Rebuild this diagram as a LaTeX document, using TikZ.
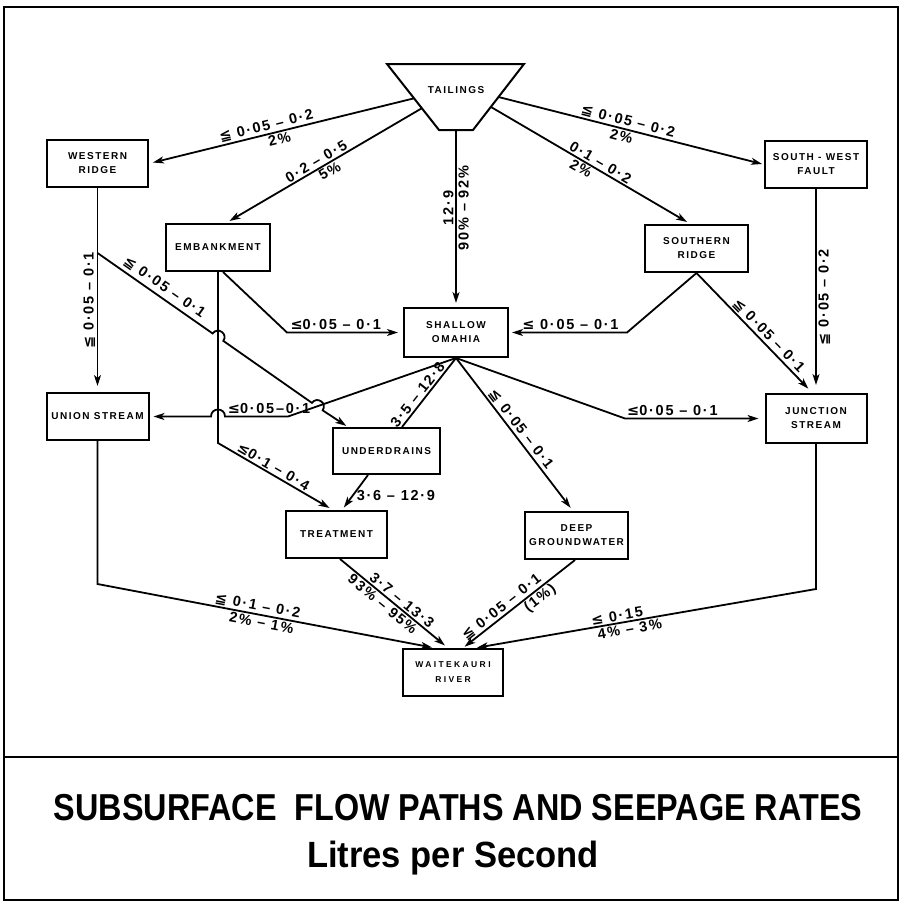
\documentclass[tikz,border=0pt]{standalone}
\usepackage{fontspec}
\usepackage{graphicx}
\setmainfont{Liberation Sans}
\newfontfamily\boxf[LetterSpace=15]{Liberation Sans}
\newfontfamily\wkf[LetterSpace=28]{Liberation Sans}
\newfontfamily\labf[LetterSpace=12]{Liberation Sans}
\newfontfamily\symf{DejaVu Sans}
\newfontfamily\titf{Liberation Sans}
\newcommand\myleqq{{\symf\bfseries ≦}}
\newcommand\myle{{\symf\bfseries ≤}}
\usetikzlibrary{arrows.meta,calc}
\tikzset{
  box/.style={draw, line width=2pt, minimum width=101pt, minimum height=47pt, inner sep=0pt, align=center, font=\boxf\bfseries\fontsize{10}{14}\selectfont},
  conn/.style={line width=1.8pt},
  arr/.style={conn, -{Stealth[length=11pt,width=7pt,inset=3pt]}, shorten >=4pt},
  lab/.style={font=\labf\bfseries\fontsize{14.5}{16}\selectfont, inner sep=1.5pt},
  frame/.style={line width=2pt},
  title/.style={font=\titf\bfseries, inner sep=0pt, anchor=base}
}
\begin{document}
\begin{tikzpicture}[x=1pt, y=-1pt]
\fill[white] (0,0) rectangle (901,902);
\useasboundingbox (0,0) rectangle (901,902);
% frame
\draw[frame] (3.5,7) rectangle (898,900);
\draw[frame] (3.5,757) -- (898,757);

% tailings
\coordinate (tl) at (387,64);
\coordinate (tr) at (524,64);
\coordinate (br) at (473,130);
\coordinate (bl) at (439,130);
\draw[line width=2pt, line join=miter] (tl) -- (tr) -- (br) -- (bl) -- cycle;
\node[font=\boxf\bfseries\fontsize{10}{14}\selectfont, inner sep=0pt] (tail) at (456,90) {TAILINGS};
\coordinate (tl1) at ($(tl)!0.52!(bl)$);
\coordinate (tl2) at ($(tl)!0.67!(bl)$);
\coordinate (tr1) at ($(tr)!0.5!(br)$);
\coordinate (tr2) at ($(tr)!0.65!(br)$);
\coordinate (tb) at ($(bl)!0.5!(br)$);

% boxes
\node[box] (wr) at (97.5,163.5) {WESTERN\\RIDGE};
\node[box, minimum width=104pt] (emb) at (218,247.5) {EMBANKMENT};
\node[box, minimum width=103pt] (sr) at (696.5,248.5) {SOUTHERN\\RIDGE};
\node[box, minimum width=102pt] (swf) at (816,164.5) {SOUTH - WEST\\FAULT};
\node[box, minimum width=104pt, minimum height=49pt] (so) at (456,332.5) {SHALLOW\\OMAHIA};
\node[box, minimum width=102pt] (us) at (97.5,416.5) {UNION STREAM};
\node[box, minimum height=49pt] (js) at (816,418.5) {JUNCTION\\STREAM};
\node[box, minimum width=107pt, minimum height=46pt] (ud) at (386.5,451) {UNDERDRAINS};
\node[box] (trt) at (336.5,534.5) {TREATMENT};
\node[box, minimum width=103pt] (dg) at (576.5,535.5) {DEEP\\GROUNDWATER};
\node[box, minimum width=100pt, font=\wkf\bfseries\fontsize{8.5}{15}\selectfont] (wk) at (453,672.5) {WAITEKAURI\\RIVER};

% from tailings
\draw[arr] (tl1) -- node[lab,pos=0.55,sloped,above]{\myleqq\ 0·05 – 0·2} node[lab,pos=0.515,sloped,below]{2\%} (wr.east);
\draw[arr] (tl2) -- node[lab,pos=0.52,sloped,above]{0·2 – 0·5} node[lab,pos=0.49,sloped,below]{5\%} ([xshift=8pt]emb.north);
\draw[arr] (tb) -- node[lab,pos=0.44,rotate=90,anchor=south]{12·9} node[lab,pos=0.44,rotate=90,anchor=north]{90\% – 92\%} (so.north);
\draw[arr] (tr2) -- node[lab,pos=0.53,sloped,above]{0·1 – 0·2} node[lab,pos=0.47,sloped,below]{2\%} ([xshift=-6pt]sr.north);
\draw[arr, shorten >=2pt] (tr1) -- node[lab,pos=0.48,sloped,above]{\myleqq\ 0·05 – 0·2} node[lab,pos=0.47,sloped,below]{2\%} (swf.west);

% western ridge
\draw[arr, shorten >=6pt] (wr.south) -- node[lab,pos=0.55,rotate=90,anchor=south]{\myleqq\ 0·05 – 0·1} (us.north);
\coordinate (wrud) at (97.5,253);
\draw[arr, shorten >=2pt] (wrud) -- node[lab,pos=0.53,sloped,above=2pt]{\myleqq\ 0·05 – 0·1} (212.67,333.5)
  .. controls (217.64,326.4) and (228.3,333.8) .. (223.33,340.9)
  -- (311.97,402.9) .. controls (316.94,395.8) and (327.6,403.2) .. (322.63,410.3)
  -- ([xshift=-38.5pt]ud.north);

% embankment
\coordinate (embv) at (218,443);
\draw[arr] (emb.south) -- (embv) -- node[lab,pos=0.45,sloped,above]{\myle 0·1 – 0·4} ([xshift=-3.5pt]trt.north);
\coordinate (embc) at (287,332.5);
\draw[arr, shorten >=5pt] ([xshift=5pt]emb.south) -- (embc) -- node[lab,pos=0.42,above]{\myle 0·05 – 0·1} (so.west);

% southern ridge
\coordinate (src) at (627,332.5);
\draw[arr, shorten >=3pt] (sr.south) -- (src) -- node[lab,pos=0.48,above]{\myle\ 0·05 – 0·1} (so.east);
\draw[arr, shorten >=6pt] (sr.south) -- node[lab,pos=0.57,sloped,above]{\myleqq\ 0·05 – 0·1} ([xshift=-3.5pt]js.north);

% south-west fault
\draw[arr, shorten >=8pt] (swf.south) -- node[lab,pos=0.53,rotate=90,anchor=north]{\myleqq\ 0·05 – 0·2} (js.north);

% shallow omahia
\coordinate (souc) at (288,416.5);
\draw[arr] (so.south) -- (souc) -- node[lab,pos=0.3,above]{\myle 0·05–0·1} (225,416.5)
  .. controls (225,407.2) and (211,407.2) .. (211,416.5) -- (us.east);
\draw[conn] (so.south) -- node[lab,pos=0.6,sloped,above]{3·5 – 12·8} ([xshift=15.5pt]ud.north);
\draw[arr] (so.south) -- node[lab,pos=0.5,sloped,above]{\myleqq\ 0·05 – 0·1} ([xshift=-3.5pt]dg.north);
\coordinate (sojc) at (625,418.5);
\draw[arr, shorten >=6pt] (so.south) -- (sojc) -- node[lab,pos=0.34,above]{\myle 0·05 – 0·1} (js.west);

% underdrains
\draw[arr, shorten >=3pt] ([xshift=-18.5pt]ud.south) -- node[lab,pos=0.6,anchor=west,xshift=2pt]{3·6 – 12·9} ([xshift=5.5pt]trt.north);

% to waitekauri
\coordinate (usc) at (97.5,584);
\draw[arr, shorten >=3pt] (us.south) -- (usc) -- node[lab,pos=0.47,sloped,above]{\myleqq\ 0·1 – 0·2} node[lab,pos=0.49,sloped,below]{2\% – 1\%} ([xshift=-18pt]wk.north);
\draw[arr] ([xshift=3.5pt]trt.south) -- node[lab,pos=0.53,sloped,above]{3·7 – 13·3} node[lab,pos=0.44,sloped,below]{93\% – 95\%} ([xshift=-5pt]wk.north);
\draw[arr, shorten >=2pt] ([xshift=-1.5pt]dg.south) -- node[lab,pos=0.61,sloped,above]{\myleqq\ 0·05 – 0·1} node[lab,pos=0.36,sloped,below]{(1\%)} ([xshift=10pt]wk.north);
\coordinate (jsc) at (816,589);
\draw[arr, shorten >=2pt] (js.south) -- (jsc) -- node[lab,pos=0.58,sloped,above]{\myle\ 0·15} node[lab,pos=0.55,sloped,below]{4\% – 3\%} ([xshift=22pt]wk.north);

% title
\node[title, font=\titf\bfseries\fontsize{37.5}{40}\selectfont] (t1) at (458,820) {\scalebox{0.863}[1]{SUBSURFACE\ \ FLOW PATHS AND SEEPAGE RATES}};
\node[title, font=\titf\bfseries\fontsize{36.5}{40}\selectfont] (t2) at (453,867) {\scalebox{0.946}[1]{Litres per Second}};
\end{tikzpicture}
\end{document}
